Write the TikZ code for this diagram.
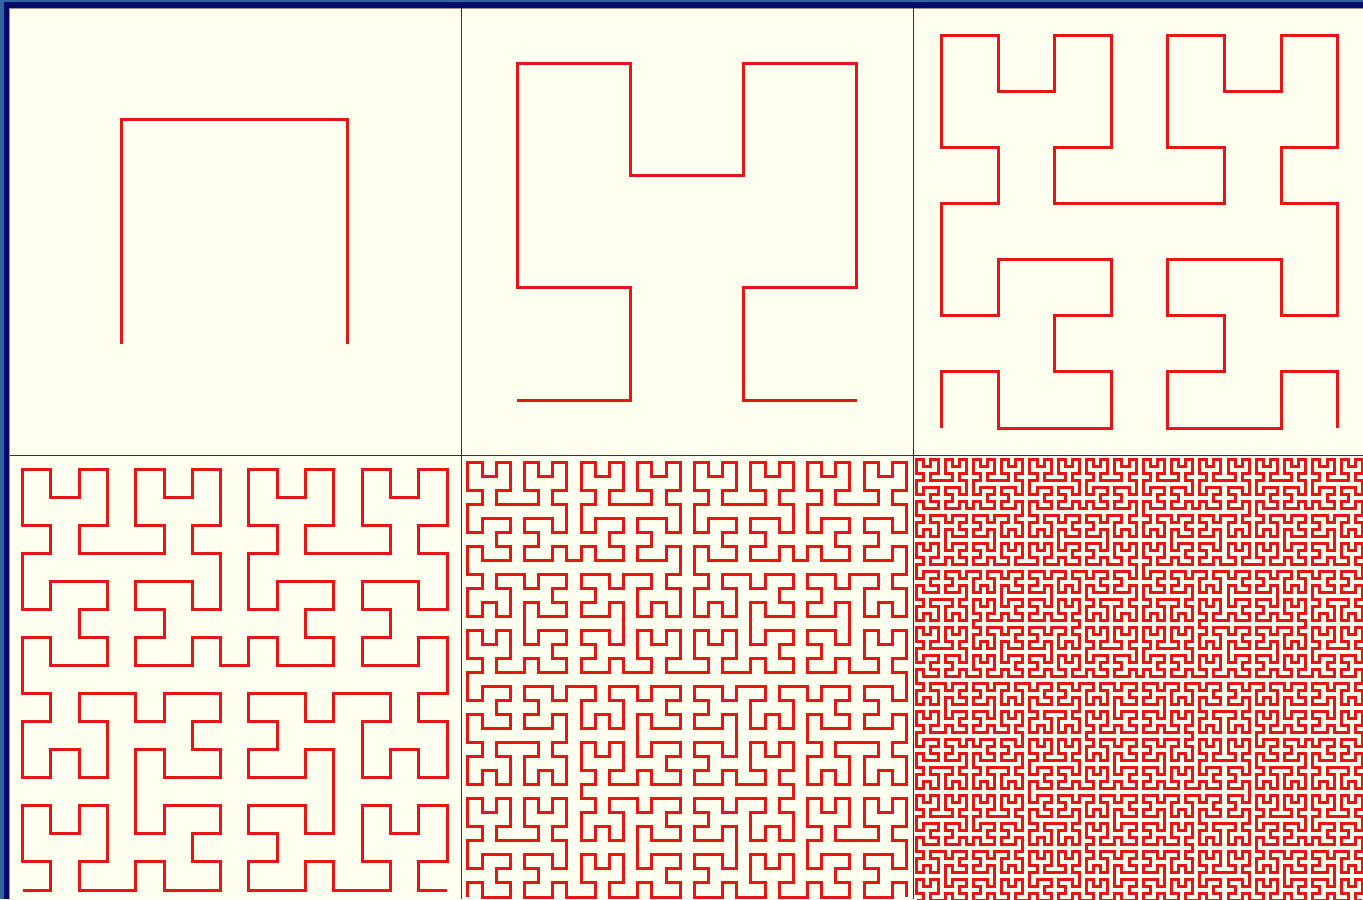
\documentclass[tikz,border=0pt]{standalone}
\usepackage{tikz}
\definecolor{frameblue}{RGB}{52,100,160}
\definecolor{framenavy}{RGB}{4,10,104}
\definecolor{paper}{RGB}{255,255,240}
\definecolor{curvered}{RGB}{230,22,22}
\definecolor{rulegray}{RGB}{150,150,135}
\newcommand{\mvup}{ -- ++(0,1)}
\newcommand{\mvdown}{ -- ++(0,-1)}
\newcommand{\mvright}{ -- ++(1,0)}
\newcommand{\mvleft}{ -- ++(-1,0)}
\newcommand{\hilU}[1]{\ifnum#1>0 \hilR{\the\numexpr#1-1\relax}\mvup\hilU{\the\numexpr#1-1\relax}\mvright\hilU{\the\numexpr#1-1\relax}\mvdown\hilL{\the\numexpr#1-1\relax}\fi}
\newcommand{\hilR}[1]{\ifnum#1>0 \hilU{\the\numexpr#1-1\relax}\mvright\hilR{\the\numexpr#1-1\relax}\mvup\hilR{\the\numexpr#1-1\relax}\mvleft\hilD{\the\numexpr#1-1\relax}\fi}
\newcommand{\hilL}[1]{\ifnum#1>0 \hilD{\the\numexpr#1-1\relax}\mvleft\hilL{\the\numexpr#1-1\relax}\mvdown\hilL{\the\numexpr#1-1\relax}\mvright\hilU{\the\numexpr#1-1\relax}\fi}
\newcommand{\hilD}[1]{\ifnum#1>0 \hilL{\the\numexpr#1-1\relax}\mvdown\hilD{\the\numexpr#1-1\relax}\mvleft\hilD{\the\numexpr#1-1\relax}\mvup\hilR{\the\numexpr#1-1\relax}\fi}
\begin{document}
\begin{tikzpicture}[
  x=0.01cm, y=0.01cm,
  curve/.style={draw=curvered,line width=0.03cm,line join=miter,line cap=butt},
  panelrule/.style={draw=black!80,line width=0.015cm},
  edgerule/.style={draw=rulegray,line width=0.01cm}
]
\useasboundingbox (0,0) rectangle (1363,899);
\clip (0,0) rectangle (1363,899);
\fill[frameblue] (0,0) rectangle (1363,899);
\fill[framenavy] (4,0) rectangle (1363,896.5);
\fill[paper] (9.5,0) rectangle (1363,890.5);
\draw[edgerule] (9.5,0) -- (9.5,890.5) -- (1363,890.5);
\coordinate (c1) at (461.3,0);
\coordinate (c2) at (913.3,0);
\coordinate (r1) at (9.5,443.5);
\draw[panelrule] (c1) -- (c1 |- 0,890.5);
\draw[panelrule] (c2) -- (c2 |- 0,890.5);
\draw[panelrule] (r1) -- (r1 -| 1363,0);
\foreach \n/\col/\row in {1/0/0,2/1/0,3/2/0,4/0/1,5/1/1,6/2/1}{
  \pgfmathsetmacro\cx{4.524/2^\n}
  \pgfmathsetmacro\cy{4.48/2^\n}
  \pgfmathsetmacro\sx{8.5+452.4*\col+226.2/2^\n}
  \pgfmathsetmacro\sy{899-(8+448*\row+448-224/2^\n)}
  \coordinate (s\n) at (\sx,\sy);
  \edef\hpath{\hilU{\n}}
  \draw[curve,x=\cx cm,y=\cy cm] (s\n) \hpath;
}
\end{tikzpicture}
\end{document}
